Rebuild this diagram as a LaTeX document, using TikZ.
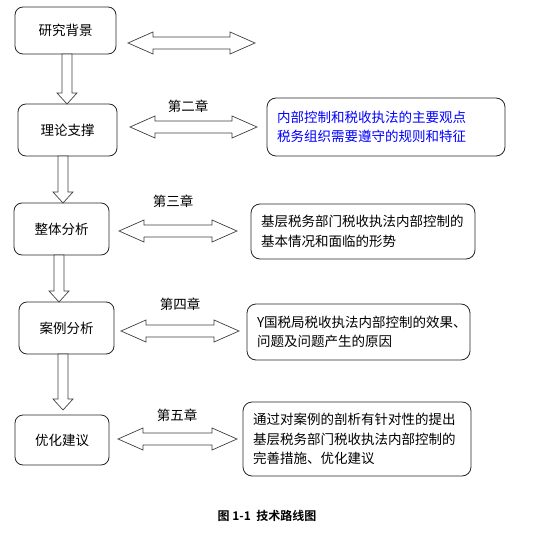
\documentclass[tikz,border=0pt]{standalone}
\usepackage{fontspec}
\setmainfont{Noto Sans CJK SC}
\newfontfamily\capfont{Noto Sans CJK SC}[BoldFont={* Bold}]
\begin{document}
\begin{tikzpicture}[x=1pt,y=-1pt,
  lbox/.style={draw=black!85,line width=0.8pt,rounded corners=8pt,font=\fontsize{13.5}{18}\selectfont,align=center},
  rbox/.style={draw=black!85,line width=0.8pt,rounded corners=9pt,font=\fontsize{13.5}{19.5}\selectfont,align=left,inner xsep=10pt},
  blk/.style={draw=black!75,line width=0.7pt,fill=white,line join=miter},
  chap/.style={font=\fontsize{13.5}{16}\selectfont}]
\useasboundingbox (0,0) rectangle (559,548);
\newcommand\blockdown[3]{%
  \draw[blk] (#1-5,#2) -- (#1+5,#2) -- (#1+5,#3-11) -- (#1+10,#3-11) -- (#1,#3)
    -- (#1-10,#3-11) -- (#1-5,#3-11) -- cycle;}
\newcommand\blockdouble[3]{%
  \draw[blk] (#1,#3) -- (#1+25,#3-11) -- (#1+25,#3-6) -- (#2-25,#3-6) -- (#2-25,#3-11)
    -- (#2,#3) -- (#2-25,#3+11) -- (#2-25,#3+6) -- (#1+25,#3+6) -- (#1+25,#3+11) -- cycle;}
% left boxes
\node[lbox,minimum width=101pt,minimum height=47pt] (b1) at (65.5,30.5) {研究背景};
\node[lbox,minimum width=99pt,minimum height=52pt] (b2) at (67.5,130) {理论支撑};
\node[lbox,minimum width=95pt,minimum height=52pt] (b3) at (61.5,229) {整体分析};
\node[lbox,minimum width=95pt,minimum height=52pt] (b4) at (66.5,328) {案例分析};
\node[lbox,minimum width=94pt,minimum height=50pt] (b5) at (62,440) {优化建议};
% right boxes
\node[rbox,text width=218pt,minimum height=58pt,text=blue] (r2) at (386,127)
  {内部控制和税收执法的主要观点\\税务组织需要遵守的规则和特征};
\node[rbox,text width=204pt,minimum height=55pt] (r3) at (363,231.5)
  {基层税务部门税收执法内部控制的\\基本情况和面临的形势};
\node[rbox,text width=203pt,minimum height=56pt] (r4) at (358.5,332)
  {Y国税局税收执法内部控制的效果、\\问题及问题产生的原因};
\node[rbox,text width=208pt,minimum height=74pt] (r5) at (357,439)
  {通过对案例的剖析有针对性的提出\\基层税务部门税收执法内部控制的\\完善措施、优化建议};
% down arrows
\blockdown{67}{54}{104}
\blockdown{63}{156}{203}
\blockdown{59}{255}{302}
\blockdown{63}{354}{410}
% double arrows
\blockdouble{128}{255}{43}
\blockdouble{130}{257}{127}
\blockdouble{119}{237}{231}
\blockdouble{121}{239}{331}
\blockdouble{118}{237}{439}
% chapter labels
\node[chap] (c2) at (188,106) {第二章};
\node[chap] (c3) at (173,201) {第三章};
\node[chap] (c4) at (180,304) {第四章};
\node[chap] (c5) at (177,415) {第五章};
% caption
\node[font=\capfont\bfseries\fontsize{12}{14}\selectfont] (cap) at (267,516) {图 1-1\ \ 技术路线图};
\end{tikzpicture}
\end{document}
